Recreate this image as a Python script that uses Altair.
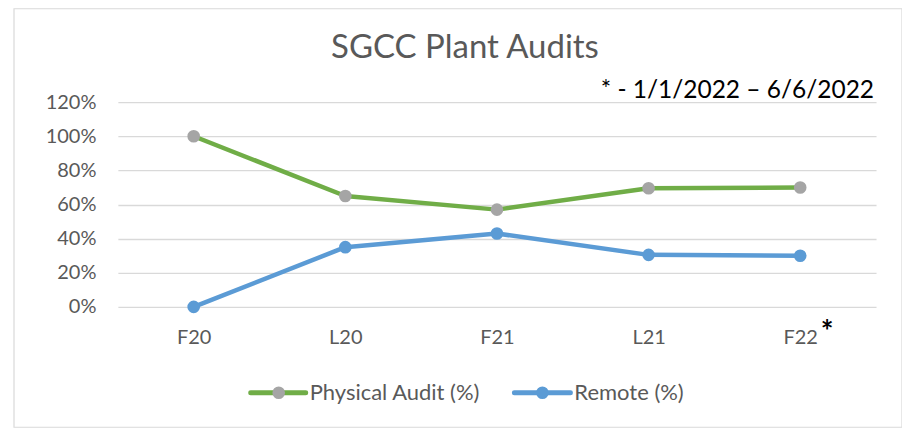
import altair as alt
import pandas as pd

# ---- data ----
periods = ["F20", "L20", "F21", "L21", "F22"]
physical = [1.00, 0.65, 0.57, 0.695, 0.70]
remote = [0.00, 0.35, 0.43, 0.305, 0.30]
series = ["Physical Audit (%)", "Remote (%)"]
line_colors = ["#70AD47", "#5B9BD5"]
marker_colors = ["#A5A5A5", "#5B9BD5"]
y_ticks = [0.0, 0.2, 0.4, 0.6, 0.8, 1.0, 1.2]
title_text = "SGCC Plant Audits"
note_text = "* - 1/1/2022 \u2013 6/6/2022"
star_text = "*"

FONT = "Lato"
GREY_TXT = "#595959"

rows = []
for p, a, b in zip(periods, physical, remote):
    rows.append({"period": p, "series": series[0], "value": a})
    rows.append({"period": p, "series": series[1], "value": b})
df = pd.DataFrame(rows)

x_enc = alt.X(
    "period:N", sort=periods,
    scale=alt.Scale(type="point", padding=0.5),
    axis=alt.Axis(title=None, labelAngle=0, domain=False, ticks=False, grid=False,
                  labelPadding=21, labelFontSize=20, labelFont=FONT, labelColor=GREY_TXT),
)
y_enc = alt.Y(
    "value:Q",
    scale=alt.Scale(domain=[0, 1.2], nice=False),
    axis=alt.Axis(title=None, values=y_ticks, format=".0%", domain=False, ticks=False,
                  grid=True, gridColor="#D9D9D9", gridWidth=1.3,
                  labelPadding=22, labelFontSize=20, labelFont=FONT, labelColor=GREY_TXT),
)

base = alt.Chart(df)

lines = base.mark_line(strokeWidth=4.5, strokeCap="round", strokeJoin="round").encode(
    x=x_enc, y=y_enc,
    color=alt.Color("series:N", scale=alt.Scale(domain=series, range=line_colors), legend=None),
    order=alt.Order("period_idx:Q"),
).transform_calculate(
    period_idx="indexof(" + str(periods) + ", datum.period)"
)

points = base.mark_point(filled=True, size=160, opacity=1, shape="circle").encode(
    x=x_enc, y=y_enc,
    fill=alt.Fill("series:N", scale=alt.Scale(domain=series, range=marker_colors), legend=None),
)

# outer chart border
border = alt.Chart(pd.DataFrame({"b": [1]})).mark_rect(
    fillOpacity=0, stroke="#D9D9D9", strokeWidth=1.2
).encode(x=alt.value(-104), x2=alt.value(785), y=alt.value(-93.5), y2=alt.value(325.5))

title = alt.Chart(pd.DataFrame({"t": [title_text]})).mark_text(
    font=FONT, fontSize=33, color=GREY_TXT, align="center", baseline="alphabetic"
).encode(text="t:N", x=alt.value(347.5), y=alt.value(-44.5))

note = alt.Chart(pd.DataFrame({"t": [note_text]})).mark_text(
    font=FONT, fontSize=24.5, color="#000000", align="right", baseline="alphabetic"
).encode(text="t:N", x=alt.value(757), y=alt.value(-4))

star = alt.Chart(pd.DataFrame({"t": [star_text]})).mark_text(
    font=FONT, fontSize=30, fontWeight="bold", color="#000000", align="center",
    baseline="alphabetic"
).encode(text="t:N", x=alt.value(710), y=alt.value(240))

# legend (drawn manually: line + marker + label)
legend_layers = []
legend_x = [(133, 188, 161, 192), (397, 453, 425, 457)]
legend_y = 291
for i, name in enumerate(series):
    x0, x1, xc, xt = legend_x[i]
    ldf = pd.DataFrame({"t": [name]})
    legend_layers.append(
        alt.Chart(ldf).mark_rule(color=line_colors[i], strokeWidth=5, strokeCap="round").encode(
            x=alt.value(x0), x2=alt.value(x1), y=alt.value(legend_y))
    )
    legend_layers.append(
        alt.Chart(ldf).mark_point(filled=True, size=160, opacity=1, shape="circle",
                                  color=marker_colors[i]).encode(
            x=alt.value(xc), y=alt.value(legend_y))
    )
    legend_layers.append(
        alt.Chart(ldf).mark_text(font=FONT, fontSize=22, color=GREY_TXT, align="left",
                                 baseline="middle").encode(
            text="t:N", x=alt.value(xt), y=alt.value(legend_y))
    )

chart = alt.layer(border, lines, points, title, note, star, *legend_layers).properties(
    width=759, height=205,
    autosize=alt.AutoSizeParams(type="none"),
    padding={"left": 110, "top": 94, "right": 26, "bottom": 121},
    background="white",
).configure_view(strokeWidth=0)

chart.save("out.html", embed_options={"renderer": "svg", "actions": False})
